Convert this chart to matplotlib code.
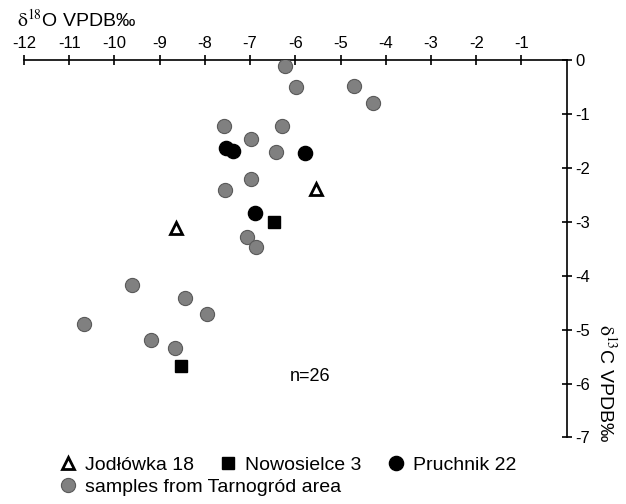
import matplotlib
matplotlib.use('Agg')
import matplotlib.pyplot as plt
from matplotlib.lines import Line2D

plt.rcParams['font.family'] = ['Liberation Sans', 'DejaVu Sans']
plt.rcParams['mathtext.fontset'] = 'stix'

# isotope data: d18O (x) and d13C (y), per mille VPDB
tarnogrod_o = [-6.23, -5.99, -4.70, -4.29, -7.58, -6.30, -6.99, -6.42, -6.99,
               -7.56, -7.06, -6.88, -9.61, -8.43, -7.96, -10.68, -9.19, -8.67]
tarnogrod_c = [-0.11, -0.50, -0.48, -0.80, -1.22, -1.22, -1.46, -1.71, -2.20,
               -2.42, -3.28, -3.47, -4.18, -4.42, -4.71, -4.90, -5.19, -5.35]

pruchnik_o = [-7.54, -7.37, -5.78, -6.89]
pruchnik_c = [-1.64, -1.69, -1.72, -2.83]

nowosielce_o = [-6.48, -8.53]
nowosielce_c = [-3.01, -5.68]

jodlowka_o = [-5.54, -8.64]
jodlowka_c = [-2.39, -3.12]

x_ticks = [-12, -11, -10, -9, -8, -7, -6, -5, -4, -3, -2, -1]
y_ticks = [0, -1, -2, -3, -4, -5, -6, -7]

fig = plt.figure(figsize=(6.26, 5.04), dpi=100)
ax = fig.add_axes([0.0383, 0.132, 0.8670, 0.749])

gray = '#808080'
ax.plot(tarnogrod_o, tarnogrod_c, 'o', ms=10.2, mfc=gray, mec='#5a5a5a',
        mew=0.8, ls='none', zorder=3)
ax.plot(pruchnik_o, pruchnik_c, 'o', ms=10.2, mfc='black', mec='black',
        ls='none', zorder=4)
ax.plot(nowosielce_o, nowosielce_c, 's', ms=8.3, mfc='black', mec='black',
        ls='none', zorder=4)
ax.plot(jodlowka_o, jodlowka_c, '^', ms=8.5, mfc='white', mec='black',
        mew=2, ls='none', zorder=4)

ax.text(-5.68, -5.87, 'n=26', fontsize=13, ha='center', va='center')

ax.set_xlim(-12, 0)
ax.set_ylim(-7, 0)
ax.spines['left'].set_visible(False)
ax.spines['bottom'].set_visible(False)
for s in ('top', 'right'):
    ax.spines[s].set_linewidth(1.2)

ax.xaxis.tick_top()
ax.yaxis.tick_right()
ax.set_xticks(x_ticks)
ax.set_xticklabels([str(t) for t in x_ticks])
ax.set_yticks(y_ticks)
ax.set_yticklabels([str(t) for t in y_ticks])
ax.tick_params(direction='inout', length=7, width=1.2, labelsize=12, pad=3)

fig.text(0.027, 0.948, r'$\mathrm{\delta}^{18}$O VPDB‰', fontsize=14,
         ha='left', va='baseline')
fig.text(0.968, 0.24, r'$\mathrm{\delta}^{13}$C VPDB‰', fontsize=14,
         rotation=270, ha='center', va='center')

leg_kw = dict(loc='upper left', frameon=False, fontsize=14, handlelength=1.0,
              handletextpad=0.38, borderaxespad=0, borderpad=0)
h1 = [Line2D([], [], marker='^', ms=8.5, mfc='white', mec='black', mew=2, ls='none'),
      Line2D([], [], marker='s', ms=8.3, mfc='black', mec='black', ls='none'),
      Line2D([], [], marker='o', ms=10.2, mfc='black', mec='black', ls='none')]
fig.legend(h1, ['Jodłówka 18', 'Nowosielce 3', 'Pruchnik 22'],
           bbox_to_anchor=(0.0932, 0.094), ncol=3, columnspacing=1.25,
           **leg_kw)
h2 = [Line2D([], [], marker='o', ms=10.2, mfc=gray, mec='#5a5a5a', mew=0.8,
             ls='none')]
fig.legend(h2, ['samples from Tarnogród area'],
           bbox_to_anchor=(0.0932, 0.051), **leg_kw)

fig.savefig('out.png', dpi=100)
